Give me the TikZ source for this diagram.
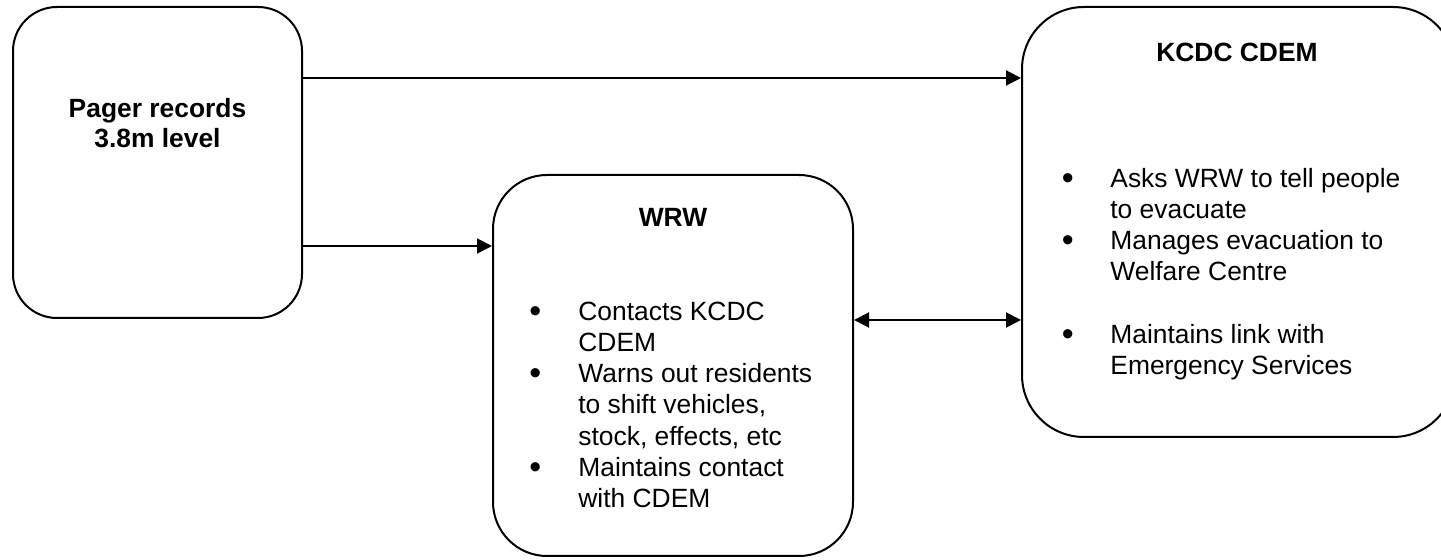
\documentclass[tikz,border=0pt]{standalone}
\usepackage{fontspec}
\setmainfont{Liberation Sans}
\usetikzlibrary{arrows.meta}
\newcommand{\bul}{\raisebox{-1pt}{\fontsize{17}{15.6}\selectfont\textbullet}}
\begin{document}
\begin{tikzpicture}[x=0.5pt,y=-0.5pt,
  box/.style={draw,line width=1pt,inner sep=0pt},
  title/.style={font=\fontsize{13.2}{15}\selectfont\bfseries,inner sep=0pt},
  list/.style={font=\fontsize{13.2}{15.6}\selectfont,inner sep=0pt,anchor=north west},
  arr/.style={line width=1pt,-{Triangle[length=7.5pt,width=7.5pt]}},
  both/.style={line width=1pt,{Triangle[length=7.5pt,width=7.5pt]}-{Triangle[length=7.5pt,width=7.5pt]}}]
\clip (0,0) rectangle (1441,560);
\node[box,rounded corners=22pt,minimum width=144.5pt,minimum height=155.5pt] (pager) at (157.5,162.5) {};
\node[box,rounded corners=27pt,minimum width=180pt,minimum height=190.5pt] (wrw) at (673,365.5) {};
\node[box,rounded corners=31pt,minimum width=216.5pt,minimum height=215pt] (kcdc) at (1238.5,222) {};
\node[title,anchor=north,align=center] (pagertitle) at (157.5,98) {Pager records\\3.8m level};
\node[title,anchor=base] (wrwtitle) at (673,227) {WRW};
\node[title,anchor=base] (kcdctitle) at (1237,62) {KCDC CDEM};
\node[list] (wrwlist) at (529,298) {\begin{tabular}{@{}p{24.5pt}@{}l@{}}
\bul & Contacts KCDC\\
 & CDEM\\
\bul & Warns out residents\\
 & to shift vehicles,\\
 & stock, effects, etc\\
\bul & Maintains contact\\
 & with CDEM
\end{tabular}};
\node[list] (kcdclist) at (1061.5,165) {\begin{tabular}{@{}p{24.25pt}@{}l@{}}
\bul & Asks WRW to tell people\\
 & to evacuate\\
\bul & Manages evacuation to\\
 & Welfare Centre\\
 & \\
\bul & Maintains link with\\
 & Emergency Services
\end{tabular}};
\coordinate (p1) at ([yshift=42.25pt]pager.east);
\coordinate (p2) at ([yshift=-41.75pt]pager.east);
\coordinate (w1) at ([yshift=22.75pt]wrw.east);
\draw[arr] (p1) -- (p1 -| kcdc.west);
\draw[arr] (p2) -- (p2 -| wrw.west);
\draw[both] (w1) -- (w1 -| kcdc.west);
\end{tikzpicture}
\end{document}
